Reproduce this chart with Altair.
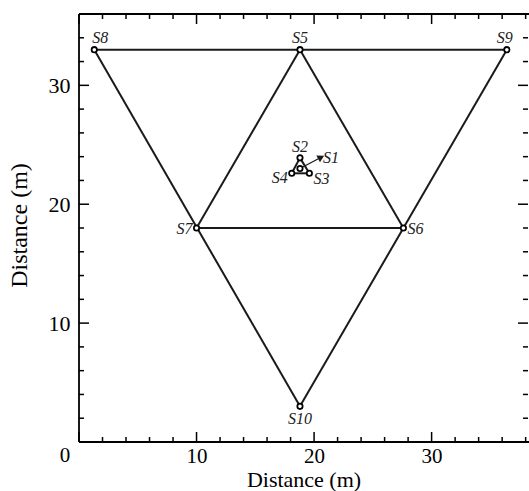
import altair as alt
import pandas as pd

# Station data
names = ["S1", "S2", "S3", "S4", "S5", "S6", "S7", "S8", "S9", "S10"]
xs = [18.8, 18.8, 19.6, 18.1, 18.8, 27.6, 10.0, 1.3, 36.4, 18.8]
ys = [23.0, 23.9, 22.6, 22.6, 33.0, 18.0, 18.0, 33.0, 33.0, 3.0]

# Connections between stations
seg_from = ["S8", "S8", "S9", "S5", "S5", "S7", "S2", "S3", "S4"]
seg_to = ["S9", "S10", "S10", "S7", "S6", "S6", "S3", "S4", "S2"]

# Arrow from S1 (end point)
arrow_end_x = 20.6
arrow_end_y = 23.95

x_major = [10, 20, 30]
y_major = [10, 20, 30]
x_ticks = list(range(0, 39, 2))
y_ticks = list(range(0, 37, 2))

W, H = 449, 428
FONT = "Liberation Serif"

pos = {n: (x, y) for n, x, y in zip(names, xs, ys)}
stations = pd.DataFrame({"name": names, "x": xs, "y": ys})

seg_rows = []
for i, (a, b) in enumerate(zip(seg_from, seg_to)):
    for n in (a, b):
        seg_rows.append({"seg": i, "x": pos[n][0], "y": pos[n][1]})
segs = pd.DataFrame(seg_rows)

xs_scale = alt.Scale(domain=[0, 38.2], nice=False, zero=False)
ys_scale = alt.Scale(domain=[0, 36], nice=False, zero=False)

X = alt.X("x:Q", scale=xs_scale, title="Distance (m)",
          axis=alt.Axis(values=x_major, ticks=False, domain=False, grid=False,
                        labelFontSize=21, labelFont=FONT, labelPadding=20,
                        labelBaseline="alphabetic",
                        titleFontSize=22, titleFont=FONT, titleFontWeight="normal",
                        titleBaseline="alphabetic", titleY=44,
                        labelColor="black", titleColor="black"))
Y = alt.Y("y:Q", scale=ys_scale, title="Distance (m)",
          axis=alt.Axis(values=y_major, ticks=False, domain=False, grid=False,
                        labelFontSize=22, labelFont=FONT, labelPadding=9,
                        titleFontSize=24, titleFont=FONT, titleFontWeight="normal",
                        titleBaseline="alphabetic", titleX=-53, titleY=H / 2 - 3,
                        labelColor="black", titleColor="black"))

lines = alt.Chart(segs).mark_line(color="#1a1a1a", strokeWidth=2).encode(
    x=X, y=Y, detail="seg:N")

arrow_df = pd.DataFrame({"x": [pos["S1"][0]], "y": [pos["S1"][1]],
                         "x2": [arrow_end_x], "y2": [arrow_end_y]})
arrow_line = alt.Chart(arrow_df).mark_rule(color="#1a1a1a", strokeWidth=1.2).encode(
    x=alt.X("x:Q", scale=xs_scale), y=alt.Y("y:Q", scale=ys_scale),
    x2="x2:Q", y2="y2:Q")
arrow_head = alt.Chart(arrow_df).mark_point(
    shape="triangle-up", filled=True, color="#1a1a1a", size=60, angle=62, opacity=1
).encode(x=alt.X("x2:Q", scale=xs_scale), y=alt.Y("y2:Q", scale=ys_scale))

points = alt.Chart(stations).mark_point(
    shape="circle", filled=True, fill="white", stroke="black", strokeWidth=1.8,
    size=28, opacity=1).encode(
    x=alt.X("x:Q", scale=xs_scale), y=alt.Y("y:Q", scale=ys_scale))

# label placement (style): name -> (align, dx, dy)
label_style = {
    "S1": ("left", 23, -11), "S2": ("center", 0, -11), "S3": ("left", 4, 6),
    "S4": ("right", -4, 5), "S5": ("center", 0, -12), "S6": ("left", 4, 1),
    "S7": ("right", -4, 1), "S8": ("center", 6, -12), "S9": ("center", -2, -12),
    "S10": ("center", 0, 13),
}
label_layers = []
for n in names:
    al, dx, dy = label_style[n]
    label_layers.append(
        alt.Chart(stations[stations.name == n]).mark_text(
            font=FONT, fontSize=16, fontStyle="italic", color="#222",
            align=al, baseline="middle", dx=dx, dy=dy).encode(
            x=alt.X("x:Q", scale=xs_scale), y=alt.Y("y:Q", scale=ys_scale),
            text="name:N"))

origin = alt.Chart(pd.DataFrame({"x": [0], "y": [0], "t": ["0"]})).mark_text(
    font=FONT, fontSize=21, color="black", dx=-14, baseline="alphabetic", dy=20).encode(
    x=alt.X("x:Q", scale=xs_scale), y=alt.Y("y:Q", scale=ys_scale), text="t:N")

# ticks (inward)
xt = pd.DataFrame({"x": x_ticks, "major": [v % 10 == 0 for v in x_ticks]})
yt = pd.DataFrame({"y": y_ticks, "major": [v % 10 == 0 for v in y_ticks]})
tick_layers = []
for major, L in ((True, 10), (False, 5)):
    dx_ = xt[xt.major == major]
    dy_ = yt[yt.major == major]
    tick_layers += [
        alt.Chart(dx_).mark_rule(color="black", strokeWidth=1.5).encode(
            x=alt.X("x:Q", scale=xs_scale), y=alt.value(H), y2=alt.value(H - L)),
        alt.Chart(dx_).mark_rule(color="black", strokeWidth=1.5).encode(
            x=alt.X("x:Q", scale=xs_scale), y=alt.value(0), y2=alt.value(L)),
        alt.Chart(dy_).mark_rule(color="black", strokeWidth=1.5).encode(
            y=alt.Y("y:Q", scale=ys_scale), x=alt.value(0), x2=alt.value(L)),
        alt.Chart(dy_).mark_rule(color="black", strokeWidth=1.5).encode(
            y=alt.Y("y:Q", scale=ys_scale), x=alt.value(W), x2=alt.value(W - L)),
    ]

frame = [
    alt.Chart(pd.DataFrame({"a": [0]})).mark_rule(color="black", strokeWidth=1.8).encode(
        x=alt.value(0), y=alt.value(0), y2=alt.value(H)),
    alt.Chart(pd.DataFrame({"a": [0]})).mark_rule(color="black", strokeWidth=1.8).encode(
        x=alt.value(0), x2=alt.value(W + 2), y=alt.value(H)),
    alt.Chart(pd.DataFrame({"a": [0]})).mark_rule(color="black", strokeWidth=1.8).encode(
        x=alt.value(0), x2=alt.value(W + 2), y=alt.value(0)),
]

chart = alt.layer(
    lines, arrow_line, arrow_head, points, *label_layers, origin, *tick_layers, *frame
).properties(
    width=W, height=H,
    autosize=alt.AutoSizeParams(type="none"),
    padding={"left": 79, "top": 14, "right": 1, "bottom": 49},
    background="white",
).configure_view(stroke=None)

chart.save("out.html", embed_options={"renderer": "svg", "actions": False})
